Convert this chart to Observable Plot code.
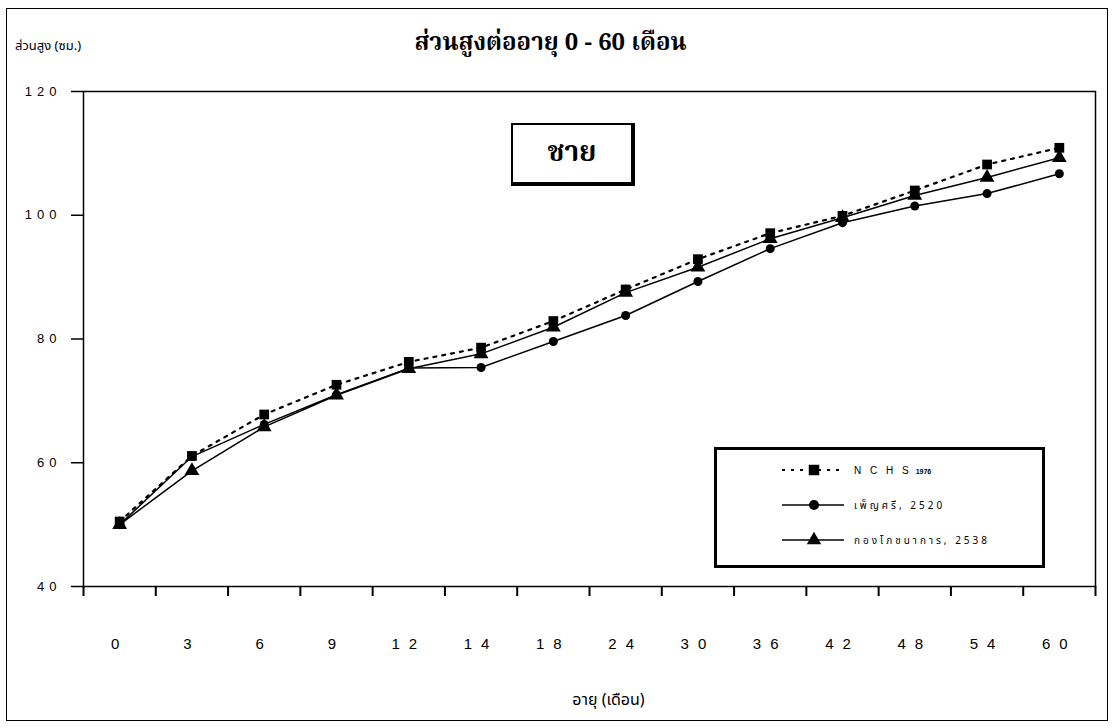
<!DOCTYPE html>
<html>
<head>
<meta charset="utf-8">
<script src="https://cdn.jsdelivr.net/npm/d3@7"></script>
<script src="https://cdn.jsdelivr.net/npm/@observablehq/plot@0.6"></script>
<style>
  html, body { margin: 0; padding: 0; background: #fff; }
  #wrap { position: relative; width: 1113px; height: 728px; overflow: hidden; font-family: "Liberation Sans", Arial, sans-serif; }
  #border { position: absolute; left: 6px; top: 8px; width: 1102px; height: 713px; border: 1.5px solid #000; box-sizing: border-box; }
  #chart { position: absolute; left: 0; top: 0; }
  .thai-serif { font-family: "Noto Serif Thai", "Noto Sans Thai", "Loma", "Garuda", "Norasi", "Tlwg Typo", "DejaVu Serif", serif; }
  .thai-sans { font-family: "Noto Sans Thai", "Loma", "Garuda", "Tlwg Typo", "DejaVu Sans", sans-serif; }
  #title { position: absolute; left: 0; width: 1113px; top: 24px; text-align: center; font-size: 24px; font-weight: bold; margin-left: -6px; }
  #ylabel { position: absolute; left: 15px; top: 36px; font-size: 13px; }
  #xlabel { position: absolute; left: 0; width: 1113px; top: 688px; text-align: center; font-size: 16px; margin-left: 52px; }
  #sex { position: absolute; left: 511px; top: 123px; width: 124px; height: 63px; box-sizing: border-box; border: 2px solid #000; border-right-width: 4px; border-bottom-width: 4px; background: #fff; display: flex; align-items: center; justify-content: center; font-size: 28px; font-weight: bold; }
  #legend { position: absolute; left: 714px; top: 447px; }
  svg g[aria-label="y-axis tick label"] text { letter-spacing: 5px; }
  svg g[aria-label="x-axis tick label"] text { letter-spacing: 9px; }
</style>
</head>
<body>
<div id="wrap">
  <div id="border"></div>
  <div id="chart"></div>
  <div id="title" class="thai-serif">ส่วนสูงต่ออายุ 0 - 60 เดือน</div>
  <div id="ylabel" class="thai-sans">ส่วนสูง (ซม.)</div>
  <div id="xlabel" class="thai-sans">อายุ (เดือน)</div>
  <div id="sex" class="thai-serif">ชาย</div>
  <div id="legend"></div>
</div>
<script>
// Age categories (months), as printed on the x axis
const ages = ["0", "3", "6", "9", "12", "14", "18", "24", "30", "36", "42", "48", "54", "60"];
// Height (cm) by series
const nchs   = [50.5, 61.1, 67.8, 72.6, 76.3, 78.6, 82.9, 88.0, 92.9, 97.1, 99.9, 104.0, 108.2, 110.9];
const pensri = [50.0, 61.0, 66.2, 71.0, 75.3, 75.4, 79.6, 83.8, 89.3, 94.6, 98.8, 101.5, 103.5, 106.7];
const nutrition = [50.0, 58.7, 65.8, 70.9, 75.2, 77.6, 81.9, 87.5, 91.6, 96.2, 99.6, 103.2, 106.1, 109.3];
const yTicks = [40, 60, 80, 100, 120];
const seriesNames = ["N C H S", "เพ็ญศรี, 2520", "กองโภชนาการ, 2538"];

const idx = ages.map((_, i) => i);
const edges = d3.range(ages.length + 1).map(i => i - 0.5);
const rowsN = idx.map(i => ({i, v: nchs[i]}));
const rowsP = idx.map(i => ({i, v: pensri[i]}));
const rowsT = idx.map(i => ({i, v: nutrition[i]}));

const plot = Plot.plot({
  width: 1113,
  height: 728,
  marginLeft: 83,
  marginRight: 18,
  marginTop: 91,
  marginBottom: 142,
  style: {fontFamily: "'Liberation Sans', Arial, sans-serif", background: "transparent", color: "#000"},
  x: {type: "linear", domain: [-0.5, ages.length - 0.5]},
  y: {domain: [40, 120]},
  marks: [
    Plot.frame({stroke: "#000", strokeWidth: 1.5}),
    Plot.axisY({ticks: yTicks, tickSize: 12, tickPadding: 10, fontSize: 13, label: null, strokeWidth: 1.5}),
    Plot.axisX({ticks: edges, tickSize: 10, tickFormat: () => "", label: null, strokeWidth: 2}),
    Plot.axisX({ticks: idx, tickSize: 0, tickPadding: 52, fontSize: 15, tickFormat: i => ages[i], label: null}),
    Plot.line(rowsP, {x: "i", y: "v", stroke: "#000", strokeWidth: 1.5}),
    Plot.line(rowsT, {x: "i", y: "v", stroke: "#000", strokeWidth: 1.5}),
    Plot.line(rowsN, {x: "i", y: "v", stroke: "#000", strokeWidth: 2.2, strokeDasharray: "3,6"}),
    Plot.dot(rowsP, {x: "i", y: "v", symbol: "circle", r: 4.5, fill: "#000"}),
    Plot.dot(rowsT, {x: "i", y: "v", symbol: "triangle", r: 5.5, fill: "#000"}),
    Plot.dot(rowsN, {x: "i", y: "v", symbol: "square", r: 5.5, fill: "#000"})
  ]
});
document.getElementById("chart").appendChild(plot);

// Legend
const lg = d3.create("svg").attr("width", 334).attr("height", 124);
lg.append("rect").attr("x", 1.5).attr("y", 1.5).attr("width", 328).attr("height", 118)
  .attr("fill", "#fff").attr("stroke", "#000").attr("stroke-width", 3);
const rowY = [23, 58, 93];
const sym = [d3.symbolSquare, d3.symbolCircle, d3.symbolTriangle];
const symSize = [110, 80, 90];
seriesNames.forEach((name, k) => {
  const g = lg.append("g").attr("transform", `translate(0,${rowY[k]})`);
  g.append("line").attr("x1", 68).attr("x2", 130).attr("y1", 0).attr("y2", 0)
    .attr("stroke", "#000").attr("stroke-width", k === 0 ? 2 : 1.5)
    .attr("stroke-dasharray", k === 0 ? "3,6" : null);
  g.append("path").attr("d", d3.symbol(sym[k], symSize[k])()).attr("transform", "translate(100,0)").attr("fill", "#000");
  const t = g.append("text").attr("x", 140).attr("y", 4).attr("font-size", 10).attr("letter-spacing", 3)
    .attr("font-family", k === 0 ? "'Liberation Sans', Arial, sans-serif" : "'Noto Sans Thai', 'Loma', 'Garuda', 'Tlwg Typo', 'DejaVu Sans', sans-serif")
    .text(name);
  if (k === 0) {
    t.append("tspan").attr("dx", 4).attr("font-size", 7).attr("font-weight", "bold").attr("letter-spacing", 0).text("1976");
  }
});
document.getElementById("legend").appendChild(lg.node());
</script>
</body>
</html>
